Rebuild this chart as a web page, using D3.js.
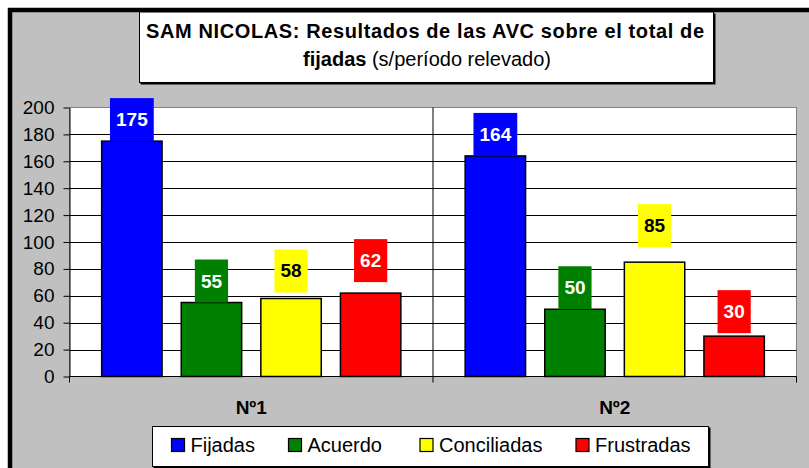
<!DOCTYPE html>
<html>
<head>
<meta charset="utf-8">
<script src="https://cdn.jsdelivr.net/npm/d3@7"></script>
<style>
  body { margin: 0; background: #fff; }
  svg { display: block; font-family: "Liberation Sans", Arial, sans-serif; }
</style>
</head>
<body>
<div id="chart"></div>
<script>
// chart data
var categories = ["Nº1", "Nº2"];
var seriesNames = ["Fijadas", "Acuerdo", "Conciliadas", "Frustradas"];
var seriesValues = [
  [175, 164],   // Fijadas
  [55, 50],     // Acuerdo
  [58, 85],     // Conciliadas
  [62, 30]      // Frustradas
];
var yTicks = [0, 20, 40, 60, 80, 100, 120, 140, 160, 180, 200];

// look
var colors = ["#0000FF", "#008000", "#FFFF00", "#FF0000"];
var labelText = ["#fff", "#fff", "#000", "#fff"];
// extra lift of each value label above its bar (px), [category][series]
var labelLift = [[0, 0, 6, 11], [0, 0, 15, 3]];

var W = 809, H = 468;
var plot = { left: 69.5, top: 107.5, right: 796.5, bottom: 376.5 };

var svg = d3.select("#chart")
  .append("svg")
  .attr("width", W)
  .attr("height", H);

// outer frame
svg.append("rect")
  .attr("x", 10).attr("y", 10)
  .attr("width", W).attr("height", H)
  .attr("fill", "#C0C0C0")
  .attr("stroke", "#000")
  .attr("stroke-width", 4.5);

// title box
svg.append("rect")
  .attr("x", 140.5).attr("y", 13.5)
  .attr("width", 575).attr("height", 71)
  .attr("fill", "#000");
svg.append("rect")
  .attr("x", 139.5).attr("y", 12)
  .attr("width", 574).attr("height", 70.5)
  .attr("fill", "#fff")
  .attr("stroke", "#000")
  .attr("stroke-width", 1);

var title = svg.append("text")
  .attr("text-anchor", "middle")
  .attr("font-size", 20)
  .attr("font-weight", "bold");
title.append("tspan")
  .attr("x", 425).attr("y", 38)
  .attr("textLength", 558)
  .attr("lengthAdjust", "spacing")
  .text("SAM NICOLAS: Resultados de las AVC sobre el total de");
var t2 = title.append("tspan")
  .attr("x", 427).attr("y", 66);
t2.append("tspan").text("fijadas");
t2.append("tspan").attr("font-weight", "normal").text(" (s/período relevado)");

// scales
var x0 = d3.scaleBand()
  .domain(categories)
  .range([plot.left, plot.right])
  .padding(0);

var x1 = d3.scaleBand()
  .domain(seriesNames)
  .range([0, x0.bandwidth()])
  .paddingInner(0.241)
  .paddingOuter(0.404);

var y = d3.scaleLinear()
  .domain([0, 200])
  .range([plot.bottom, plot.top]);

// plot area
svg.append("rect")
  .attr("x", plot.left).attr("y", plot.top)
  .attr("width", plot.right - plot.left)
  .attr("height", plot.bottom - plot.top)
  .attr("fill", "#fff")
  .attr("stroke", "#808080")
  .attr("stroke-width", 1);

// horizontal gridlines
svg.append("g")
  .selectAll("line")
  .data(yTicks.filter(d => d > 0 && d < 200))
  .join("line")
  .attr("x1", plot.left).attr("x2", plot.right)
  .attr("y1", d => Math.round(y(d)) + 0.5)
  .attr("y2", d => Math.round(y(d)) + 0.5)
  .attr("stroke", "#000")
  .attr("stroke-width", 1);

// category separators
svg.append("g")
  .selectAll("line")
  .data(categories.slice(1))
  .join("line")
  .attr("x1", d => x0(d)).attr("x2", d => x0(d))
  .attr("y1", plot.top).attr("y2", plot.bottom + 6)
  .attr("stroke", "#000");

// y axis
var yAxis = d3.axisLeft(y)
  .tickValues(yTicks)
  .tickSize(6)
  .tickSizeOuter(0)
  .tickPadding(9);

var yg = svg.append("g")
  .attr("transform", "translate(" + plot.left + ",0)")
  .call(yAxis);
yg.selectAll("text")
  .attr("font-size", 19)
  .attr("font-family", "Liberation Sans, Arial, sans-serif")
  .attr("fill", "#000");
yg.selectAll("line, path").attr("stroke", "#000");

// x axis
var xg = svg.append("g")
  .attr("transform", "translate(0," + plot.bottom + ")");
xg.append("line")
  .attr("x1", plot.left).attr("x2", plot.right)
  .attr("stroke", "#000");
xg.selectAll(".tick")
  .data([plot.left, plot.right])
  .join("line")
  .attr("class", "tick")
  .attr("x1", d => d).attr("x2", d => d)
  .attr("y1", 0).attr("y2", 6)
  .attr("stroke", "#000");
xg.selectAll(".cat")
  .data(categories)
  .join("text")
  .attr("class", "cat")
  .attr("x", d => x0(d) + x0.bandwidth() / 2)
  .attr("y", 37)
  .attr("text-anchor", "middle")
  .attr("font-size", 19)
  .attr("font-weight", "bold")
  .text(d => d);

// bars
var rows = [];
categories.forEach(function (c, ci) {
  seriesNames.forEach(function (s, si) {
    rows.push({ cat: c, ci: ci, series: s, si: si, value: seriesValues[si][ci] });
  });
});

svg.append("g")
  .selectAll("rect")
  .data(rows)
  .join("rect")
  .attr("x", d => x0(d.cat) + x1(d.series))
  .attr("y", d => y(d.value))
  .attr("width", x1.bandwidth())
  .attr("height", d => y(0) - y(d.value))
  .attr("fill", d => colors[d.si])
  .attr("stroke", "#000")
  .attr("stroke-width", 1.5);

// value labels
var lab = svg.append("g")
  .selectAll("g")
  .data(rows)
  .join("g")
  .attr("transform", function (d) {
    var cx = x0(d.cat) + x1(d.series) + x1.bandwidth() / 2;
    var by = y(d.value) - labelLift[d.ci][d.si];
    return "translate(" + cx + "," + by + ")";
  });

lab.append("rect")
  .attr("x", d => -(String(d.value).length * 10.6 + 12) / 2)
  .attr("y", -43)
  .attr("width", d => String(d.value).length * 10.6 + 12)
  .attr("height", 43)
  .attr("fill", d => colors[d.si]);

lab.append("text")
  .attr("text-anchor", "middle")
  .attr("y", -15)
  .attr("font-size", 19)
  .attr("font-weight", "bold")
  .attr("fill", d => labelText[d.si])
  .text(d => d.value);

// legend
var legend = svg.append("g");
legend.append("rect")
  .attr("x", 153.5).attr("y", 427.5)
  .attr("width", 557).attr("height", 41)
  .attr("fill", "#000");
legend.append("rect")
  .attr("x", 152.5).attr("y", 426.5)
  .attr("width", 556).attr("height", 40)
  .attr("fill", "#fff")
  .attr("stroke", "#000");

var legendX = [171, 288, 419.5, 575.5];
var item = legend.selectAll(".item")
  .data(seriesNames)
  .join("g")
  .attr("class", "item")
  .attr("transform", (d, i) => "translate(" + legendX[i] + ",438)");

item.append("rect")
  .attr("x", 0.5).attr("y", 0.5)
  .attr("width", 13).attr("height", 13)
  .attr("fill", (d, i) => colors[i])
  .attr("stroke", "#000")
  .attr("stroke-width", 1.2);

item.append("text")
  .attr("x", 19.5)
  .attr("y", 14)
  .attr("font-size", 20)
  .text(d => d);
</script>
</body>
</html>
